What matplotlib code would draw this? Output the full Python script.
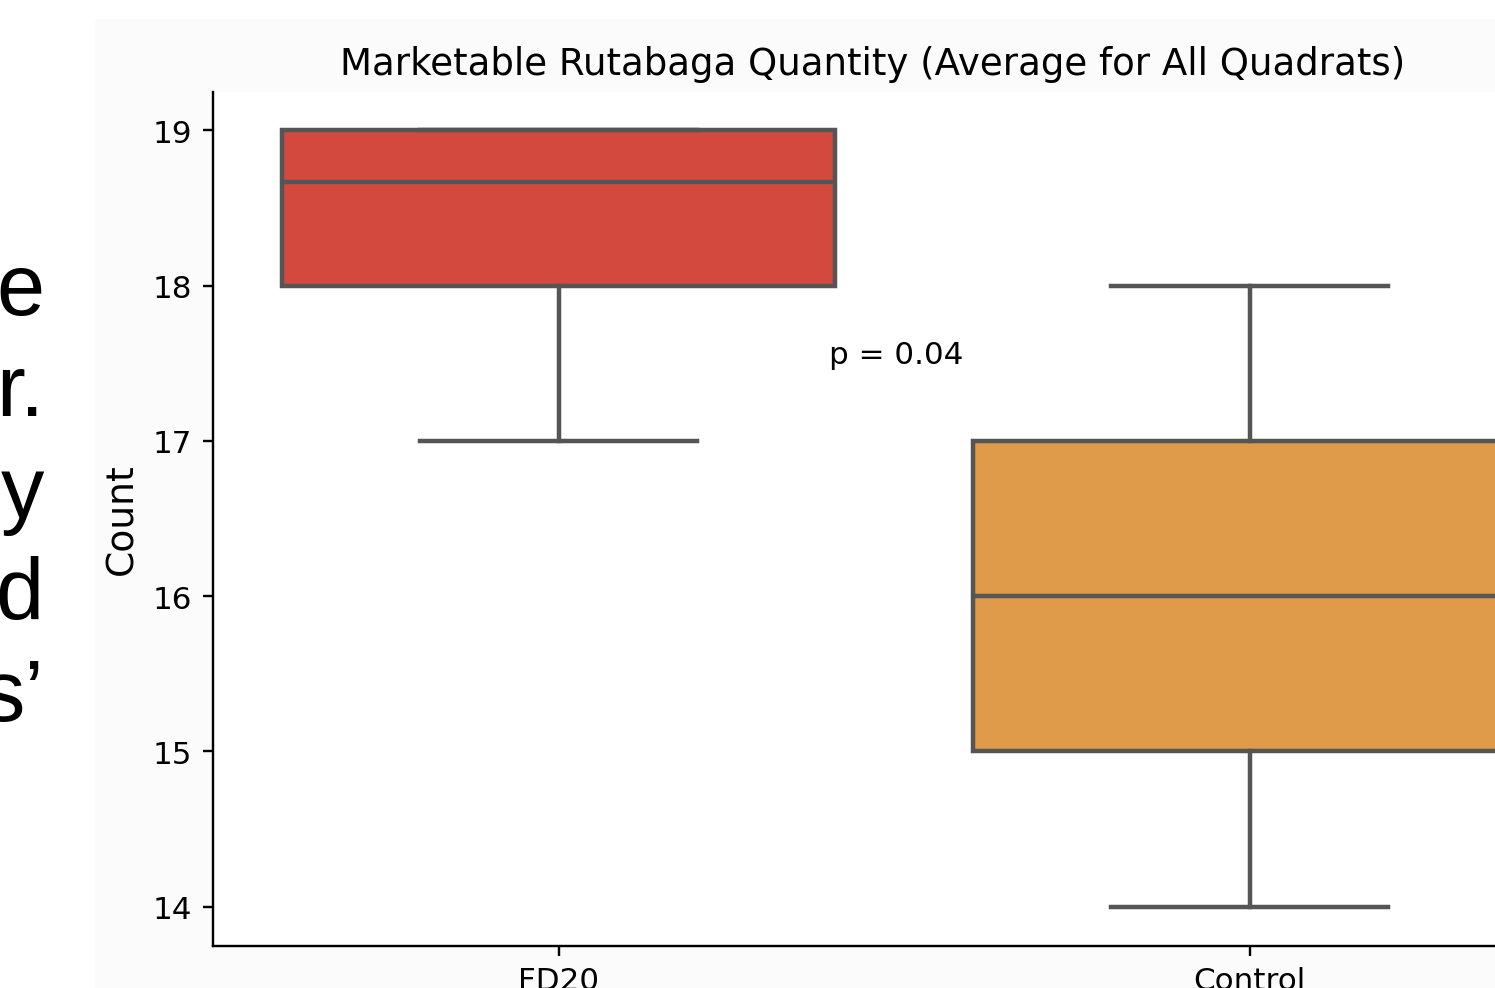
import numpy as np
import matplotlib.pyplot as plt
from matplotlib.patches import Rectangle

# box summary values per treatment
groups = ["FD20", "Control"]
whis_lo = [17, 14]
q1 = [18, 15]
medians = [18.67, 16]
q3 = [19, 17]
whis_hi = [19, 18]
colors = ["#d4493e", "#e09b4a"]

p_label = "p = 0.04"
side_text = ["e", "r.", "y", "d", "s\u2019"]

DPI = 215
fig = plt.figure(figsize=(1495 / DPI, 989 / DPI), dpi=DPI)
fig.patch.set_facecolor("white")

# light panel behind the plot image
fig.patches.append(Rectangle((95 / 1495, 0), 1, 1 - 20 / 989,
                             transform=fig.transFigure, facecolor="#fbfbfb",
                             edgecolor="none", zorder=-5))

# slide text running off the left edge
for i, s in enumerate(side_text):
    fig.text(44 / 1495, 1 - (315 + 101.5 * i) / 989, s, ha="right", va="baseline",
             fontsize=29, family="Liberation Sans", color="black")

ax = fig.add_axes([213 / 1495, 42.5 / 989, 1382 / 1495, 854 / 989])
ax.set_facecolor("white")

stats = []
for i, g in enumerate(groups):
    stats.append(dict(label=g, whislo=whis_lo[i], q1=q1[i], med=medians[i],
                      q3=q3[i], whishi=whis_hi[i], fliers=[]))

line_col = "#555555"
lw = 1.5
bp = ax.bxp(stats, positions=np.arange(len(groups)), widths=0.8,
            patch_artist=True, showfliers=False,
            boxprops=dict(edgecolor=line_col, linewidth=lw),
            medianprops=dict(color=line_col, linewidth=lw),
            whiskerprops=dict(color=line_col, linewidth=lw),
            capprops=dict(color=line_col, linewidth=lw))
for box, c in zip(bp["boxes"], colors):
    box.set_facecolor(c)

ax.set_xlim(-0.5, 1.5)
ax.set_ylim(13.75, 19.25)
ax.set_xticks(np.arange(len(groups)))
ax.set_xticklabels(groups)
ax.tick_params(labelsize=10.4)
ax.set_ylabel("Count", fontsize=12.6)
ax.set_title("Marketable Rutabaga Quantity (Average for All Quadrats)",
             x=0.477, fontsize=12.45)
ax.text(0.488, 17.5, p_label, ha="center", fontsize=10.4)

ax.spines["top"].set_visible(False)
ax.spines["right"].set_visible(False)

fig.savefig("out.png", dpi=DPI)
